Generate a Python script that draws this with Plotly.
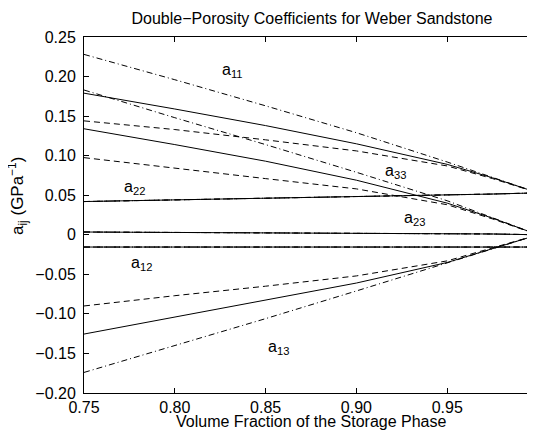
import plotly.graph_objects as go

# ---------------- data ----------------
vol_frac = [0.75, 0.80, 0.85, 0.90, 0.95, 0.975, 1.0]

# a11 family (converges to ~0.053)
a11_dashdot = [0.228, 0.196, 0.163, 0.129, 0.092, 0.073, 0.053]
a11_solid   = [0.179, 0.159, 0.138, 0.115, 0.089, 0.072, 0.053]
a11_dashed  = [0.144, 0.133, 0.120, 0.106, 0.087, 0.071, 0.053]

# a33 family (converges to 0)
a33_dashdot = [0.183, 0.148, 0.114, 0.079, 0.043, 0.022, 0.0]
a33_solid   = [0.134, 0.114, 0.093, 0.069, 0.040, 0.021, 0.0]
a33_dashed  = [0.0975, 0.084, 0.071, 0.058, 0.038, 0.020, 0.0]

# a22, a23, a12 (all three cases overlap)
a22_vals = [0.042, 0.044, 0.046, 0.048, 0.050, 0.0515, 0.053]
a23_vals = [0.0035, 0.003, 0.003, 0.0025, 0.002, 0.001, 0.0]
a12_vals = [-0.0155, -0.0155, -0.0155, -0.0155, -0.0155, -0.0155, -0.0155]

# a13 family (converges to 0)
a13_dashdot = [-0.174, -0.140, -0.106, -0.071, -0.036, -0.018, 0.0]
a13_solid   = [-0.1255, -0.104, -0.083, -0.061, -0.035, -0.018, 0.0]
a13_dashed  = [-0.090, -0.077, -0.065, -0.052, -0.033, -0.017, 0.0]

x_tick_vals = [0.75, 0.80, 0.85, 0.90, 0.95]
x_tick_text = ["0.75", "0.80", "0.85", "0.90", "0.95"]
y_tick_vals = [0.25, 0.20, 0.15, 0.10, 0.05, 0.0, -0.05, -0.10, -0.15, -0.20]
y_tick_text = ["0.25", "0.20", "0.15", "0.10", "0.05", "0",
               "\u22120.05", "\u22120.10", "\u22120.15", "\u22120.20"]

label_names = ["11", "22", "33", "23", "12", "13"]
label_x = [0.8249, 0.771, 0.9146, 0.925, 0.775, 0.850]
label_y = [0.208, 0.060, 0.0806, 0.021, -0.0357, -0.143]

title_text = "Double\u2212Porosity Coefficients for Weber Sandstone"
x_title = "Volume Fraction of the Storage Phase"
y_title = "a<sub>ij</sub> (GPa<sup>\u22121</sup>)"

# ---------------- figure ----------------
# the page body has an 8px default margin: build the figure 8px smaller
# and express all reference pixel positions shifted by that offset
OFF = 8
W, H = 535 - OFF, 434 - OFF
L = 84 - OFF                # left axis at reference x=84
T = 37 - OFF                # top axis at reference y=37
R = 0
B = H - (393 - OFF)         # bottom axis at reference y=393
FONT = "Liberation Sans, Arial, Helvetica, sans-serif"

DASHED = "6px,4px"
DASHDOT = "6px,3px,1px,3px"

fig = go.Figure()

def add_line(y, dash):
    fig.add_trace(go.Scatter(x=vol_frac, y=y, mode="lines",
                             line=dict(color="black", width=1, dash=dash),
                             showlegend=False, hoverinfo="skip"))

for y, d in [(a11_dashdot, DASHDOT), (a11_solid, "solid"), (a11_dashed, DASHED),
             (a33_dashdot, DASHDOT), (a33_solid, "solid"), (a33_dashed, DASHED),
             (a13_dashdot, DASHDOT), (a13_solid, "solid"), (a13_dashed, DASHED)]:
    add_line(y, d)

for y in [a22_vals, a23_vals, a12_vals]:
    add_line(y, DASHDOT)
    add_line(y, DASHED)
    add_line(y, "solid")

# invisible trace to activate the right-hand tick axis
fig.add_trace(go.Scatter(x=[0.75], y=[0], yaxis="y2", mode="markers",
                         marker=dict(opacity=0), showlegend=False, hoverinfo="skip"))

pw = W - L - R
ph = H - T - B
x_max = 0.75 + pw / 90.8 * 0.05
y_rng = [-0.20, 0.25]

fig.update_layout(
    width=W, height=H,
    margin=dict(l=L, r=R, t=T, b=B, pad=0),
    paper_bgcolor="white", plot_bgcolor="white",
    font=dict(family=FONT, size=16, color="black"),
    showlegend=False,
    xaxis=dict(range=[0.75, x_max], tickvals=x_tick_vals, ticktext=x_tick_text,
               ticks="inside", ticklen=5, tickcolor="black", tickwidth=1,
               showline=True, linecolor="black", linewidth=1, mirror="ticks",
               showgrid=False, zeroline=False, ticklabelstandoff=0,
               tickfont=dict(size=16)),
    yaxis=dict(range=y_rng, tickvals=y_tick_vals, ticktext=y_tick_text,
               ticks="inside", ticklen=5, tickcolor="black", tickwidth=1,
               showline=True, linecolor="black", linewidth=1, mirror=False,
               showgrid=False, zeroline=False, ticklabelstandoff=4,
               tickfont=dict(size=16)),
    yaxis2=dict(range=y_rng, overlaying="y", side="right", tickvals=y_tick_vals,
                ticks="inside", ticklen=3, tickcolor="black", tickwidth=1,
                showticklabels=False, showline=False, showgrid=False, zeroline=False),
    title=dict(text=title_text, x=(312 - OFF) / W, xanchor="center", xref="container",
               y=1 - (18 - OFF) / H, yanchor="middle", yref="container",
               font=dict(size=16, family=FONT, color="black")),
)

annotations = []
for name, lx, ly in zip(label_names, label_x, label_y):
    annotations.append(dict(x=lx, y=ly, xref="x", yref="y",
                            text="a<sub>" + name + "</sub>", showarrow=False,
                            xanchor="left", yanchor="middle",
                            font=dict(size=16, family=FONT, color="black")))

annotations.append(dict(x=(311 - 84) / pw, y=-(421 - 393) / ph, xref="paper", yref="paper",
                        text=x_title, showarrow=False, xanchor="center", yanchor="middle",
                        font=dict(size=16, family=FONT, color="black")))
annotations.append(dict(x=-(84 - 17) / pw, y=(393 - 196) / ph, xref="paper", yref="paper",
                        text=y_title, textangle=-90, showarrow=False,
                        xanchor="center", yanchor="middle",
                        font=dict(size=17, family=FONT, color="black")))
fig.update_layout(annotations=annotations)

fig.write_html("out.html")
